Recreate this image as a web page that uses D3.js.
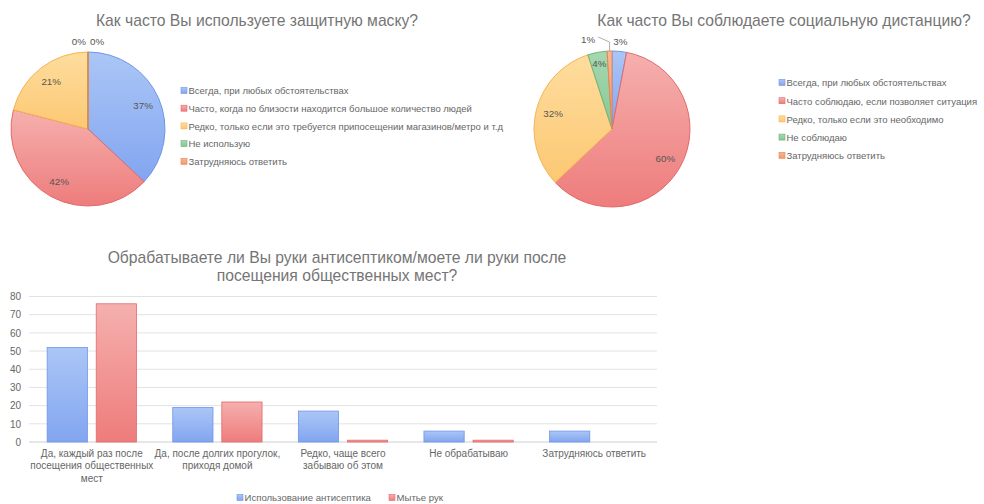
<!DOCTYPE html>
<html>
<head>
<meta charset="utf-8">
<script src="https://cdn.jsdelivr.net/npm/d3@7"></script>
<style>
  body { margin: 0; background: #fff; }
  text { font-family: "Liberation Sans", Arial, sans-serif; }
</style>
</head>
<body>
<div id="chart"></div>
<script>
// pie 1 - masks
var maskTitle = "Как часто Вы используете защитную маску?";
var maskLabels = [
  "Всегда, при любых обстоятельствах",
  "Часто, когда по близости находится большое количество людей",
  "Редко, только если это требуется припосещении магазинов/метро и т.д",
  "Не использую",
  "Затрудняюсь ответить"
];
var maskValues = [37, 42, 21, 0, 0];

// pie 2 - distance
var distTitle = "Как часто Вы соблюдаете социальную дистанцию?";
var distLabels = [
  "Всегда, при любых обстоятельствах",
  "Часто соблюдаю, если позволяет ситуация",
  "Редко, только если это необходимо",
  "Не соблюдаю",
  "Затрудняюсь ответить"
];
var distValues = [3, 60, 32, 4, 1];

// bar chart - hands
var handsTitle = [
  "Обрабатываете ли Вы руки антисептиком/моете ли руки после",
  "посещения общественных мест?"
];
var handsCategories = [
  ["Да, каждый раз после", "посещения общественных", "мест"],
  ["Да, после долгих прогулок,", "приходя домой"],
  ["Редко, чаще всего", "забываю об этом"],
  ["Не обрабатываю"],
  ["Затрудняюсь ответить"]
];
var handsSeries = ["Использование антисептика", "Мытье рук"];
var antisepticValues = [52, 19, 17, 6, 6];
var washValues = [76, 22, 1, 1, 0];
var yTicks = [0, 10, 20, 30, 40, 50, 60, 70, 80];

var palette = [
  { top: "#abc6f6", bottom: "#82a5f0", stroke: "#6f95ea" },
  { top: "#f5b0ae", bottom: "#ee7c7c", stroke: "#e36a6a" },
  { top: "#fedd9e", bottom: "#fcc873", stroke: "#f5b453" },
  { top: "#a6d8b0", bottom: "#86c795", stroke: "#6bb47c" },
  { top: "#f8b896", bottom: "#f3996b", stroke: "#e98452" }
];

var svg = d3.select("#chart").append("svg")
  .attr("width", 984).attr("height", 504);

var defs = svg.append("defs");
palette.forEach(function (c, i) {
  var g = defs.append("linearGradient").attr("id", "grad" + i)
    .attr("x1", 0).attr("y1", 0).attr("x2", 0).attr("y2", 1);
  g.append("stop").attr("offset", "0%").attr("stop-color", c.top);
  g.append("stop").attr("offset", "100%").attr("stop-color", c.bottom);
});

function drawPie(cfg) {
  var g = svg.append("g");

  g.append("text")
    .attr("x", cfg.titleX).attr("y", 26)
    .attr("text-anchor", "middle")
    .attr("font-size", 15.7)
    .attr("fill", "#757575")
    .text(cfg.title);

  var pie = d3.pie().sort(null).value(function (d) { return d; });
  var arcs = pie(cfg.values);
  var arc = d3.arc().innerRadius(0).outerRadius(cfg.r);

  var pg = g.append("g")
    .attr("transform", "translate(" + cfg.cx + "," + cfg.cy + ")");

  pg.selectAll("path")
    .data(arcs)
    .enter()
    .append("path")
    .attr("d", arc)
    .attr("fill", function (d, i) { return "url(#grad" + i + ")"; })
    .attr("stroke", function (d, i) { return palette[i].stroke; })
    .attr("stroke-width", 1);

  // labels
  arcs.forEach(function (d, i) {
    var v = d.data;
    var mid = (d.startAngle + d.endAngle) / 2;
    var r, anchor = "middle";
    if (v <= 3) {
      r = cfg.r + 10;
    } else if (v < 5) {
      r = cfg.r * 0.86;
    } else {
      r = cfg.r * 0.78;
    }
    var x = Math.sin(mid) * r;
    var y = -Math.cos(mid) * r;
    var off = cfg.labelOffsets[i];
    if (off) {
      x += off.dx; y += off.dy; anchor = off.anchor;
      if (off.leader) {
        var ex = Math.sin(mid) * cfg.r, ey = -Math.cos(mid) * cfg.r;
        pg.append("polyline")
          .attr("points", [[ex, ey], [ex, ey - 9], [x + 3, y - 3]].map(function (p) { return p.join(","); }).join(" "))
          .attr("fill", "none")
          .attr("stroke", "#999")
          .attr("stroke-width", 0.8);
      }
    }
    pg.append("text")
      .attr("x", x).attr("y", y)
      .attr("dy", "0.35em")
      .attr("text-anchor", anchor)
      .attr("font-size", 9.8)
      .attr("fill", "#555")
      .text(v + "%");
  });

  // legend
  var lg = g.append("g")
    .attr("transform", "translate(" + cfg.legendX + "," + cfg.legendY + ")");
  cfg.labels.forEach(function (t, i) {
    var row = lg.append("g").attr("transform", "translate(0," + i * cfg.legendStep + ")");
    row.append("rect")
      .attr("x", 0).attr("y", -3.5)
      .attr("width", 6).attr("height", 6)
      .attr("fill", "url(#grad" + i + ")")
      .attr("stroke", palette[i].stroke)
      .attr("stroke-width", 0.6);
    row.append("text")
      .attr("x", 7.5).attr("y", 0)
      .attr("dy", "0.35em")
      .attr("font-size", 9.5)
      .attr("fill", "#666")
      .text(t);
  });
}

drawPie({
  title: maskTitle, titleX: 257,
  labels: maskLabels, values: maskValues,
  cx: 88, cy: 129, r: 77,
  legendX: 181, legendY: 91, legendStep: 17.7,
  labelOffsets: [null, null, null,
    { dx: -2, dy: 0, anchor: "end" },
    { dx: 2, dy: 0, anchor: "start" }]
});

drawPie({
  title: distTitle, titleX: 784,
  labels: distLabels, values: distValues,
  cx: 612, cy: 129, r: 78,
  legendX: 779, legendY: 83, legendStep: 18.2,
  labelOffsets: [null, null, null, null,
    { dx: -14, dy: -1, anchor: "end", leader: true }]
});

// ---- bar chart ----
var bg = svg.append("g");

handsTitle.forEach(function (t, i) {
  bg.append("text")
    .attr("x", 337).attr("y", 263 + i * 18)
    .attr("text-anchor", "middle")
    .attr("font-size", 15.7)
    .attr("fill", "#757575")
    .text(t);
});

var x0 = d3.scaleBand()
  .domain(d3.range(handsCategories.length))
  .range([29, 657])
  .padding(0);
var x1 = d3.scaleBand()
  .domain(handsSeries)
  .range([0, x0.bandwidth()])
  .paddingInner(0.18)
  .paddingOuter(0.37);
var y = d3.scaleLinear().domain([0, 80]).range([442, 296.5]);

// grid
bg.append("g").selectAll("line")
  .data(yTicks)
  .enter()
  .append("line")
  .attr("x1", 29).attr("x2", 657)
  .attr("y1", function (d) { return y(d); })
  .attr("y2", function (d) { return y(d); })
  .attr("stroke", function (d) { return d === 0 ? "#cfcfcf" : "#e2e2e2"; })
  .attr("stroke-width", 1);

var yAxis = bg.append("g")
  .attr("transform", "translate(21,0)")
  .call(d3.axisLeft(y).tickValues(yTicks).tickSize(0).tickPadding(0));
yAxis.select(".domain").remove();
yAxis.selectAll("text")
  .attr("font-size", 10)
  .attr("fill", "#666")
  .attr("font-family", "Liberation Sans, Arial, sans-serif");

var seriesData = [antisepticValues, washValues];
handsSeries.forEach(function (s, si) {
  var rows = seriesData[si].map(function (v, i) { return { i: i, v: v }; })
    .filter(function (d) { return d.v > 0; });
  bg.append("g").selectAll("rect")
    .data(rows)
    .enter()
    .append("rect")
    .attr("x", function (d) { return x0(d.i) + x1(s); })
    .attr("y", function (d) { return y(d.v); })
    .attr("width", x1.bandwidth())
    .attr("height", function (d) { return y(0) - y(d.v); })
    .attr("fill", "url(#grad" + si + ")")
    .attr("stroke", palette[si].stroke)
    .attr("stroke-width", 0.8);
});

// x labels
handsCategories.forEach(function (lines, i) {
  var t = bg.append("text")
    .attr("text-anchor", "middle")
    .attr("font-size", 10)
    .attr("fill", "#666");
  lines.forEach(function (l, j) {
    t.append("tspan")
      .attr("x", x0(i) + x0.bandwidth() / 2)
      .attr("y", 457 + j * 12.4)
      .text(l);
  });
});

// legend
var legendPos = [237, 389];
handsSeries.forEach(function (s, i) {
  bg.append("rect")
    .attr("x", legendPos[i]).attr("y", 494.5)
    .attr("width", 6).attr("height", 6)
    .attr("fill", "url(#grad" + i + ")")
    .attr("stroke", palette[i].stroke)
    .attr("stroke-width", 0.6);
  bg.append("text")
    .attr("x", legendPos[i] + 7.5).attr("y", 497.5)
    .attr("dy", "0.35em")
    .attr("font-size", 9.6)
    .attr("fill", "#666")
    .text(s);
});
</script>
</body>
</html>
